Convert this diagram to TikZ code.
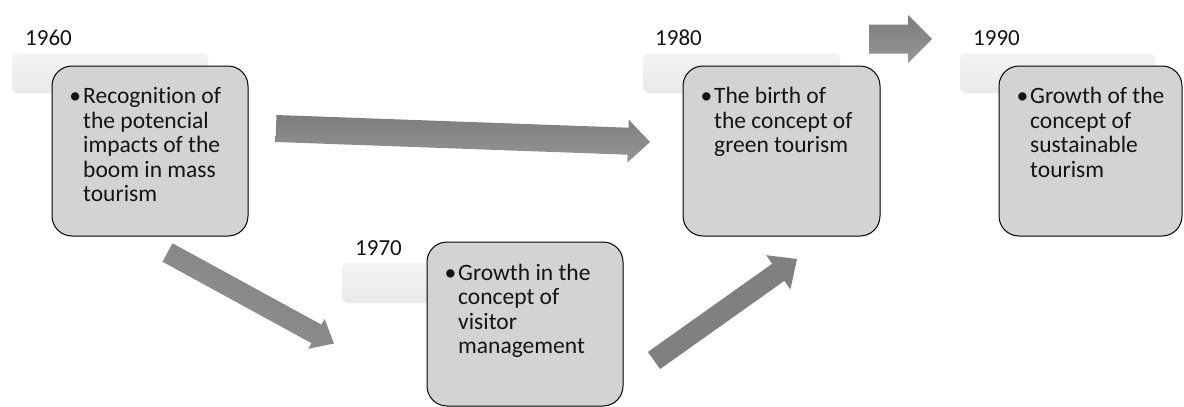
\documentclass[tikz,border=0pt]{standalone}
\usepackage{fontspec}
\setmainfont{Carlito}[Ligatures=NoCommon]
\usetikzlibrary{calc}
\definecolor{boxfill}{RGB}{211,211,211}
\definecolor{paneltop}{RGB}{244,244,244}
\definecolor{panelbot}{RGB}{234,234,234}
\definecolor{arrdark}{RGB}{125,125,125}
\definecolor{arrlight}{RGB}{170,170,170}
\definecolor{arrmid}{RGB}{150,150,150}
\definecolor{arrsolid}{RGB}{128,128,128}
\definecolor{txt}{RGB}{20,20,20}
% #1 style, #2 tail, #3 tip, #4 half shaft width, #5 half head width, #6 head length
\newcommand\fatarrow[6]{%
  \coordinate (#2hb) at ($(#3)!#6!(#2)$);
  \path[#1] ($(#2)!#4!90:(#3)$) -- ($(#2hb)!#4!-90:(#2)$) -- ($(#2hb)!#5!-90:(#2)$)
     -- (#3) -- ($(#2hb)!#5!90:(#2)$) -- ($(#2hb)!#4!90:(#2)$) -- ($(#2)!#4!-90:(#3)$) -- cycle;
}
\tikzset{
  mainbox/.style={draw=black, line width=1pt, fill=boxfill, rounded corners=20pt,
    anchor=north west, inner sep=0pt, outer sep=0pt},
  panel/.style={rounded corners=6pt, top color=paneltop, bottom color=panelbot,
    anchor=north west, inner sep=0pt, outer sep=0pt, minimum height=40pt},
  year/.style={anchor=base west, inner sep=0pt, text=txt,
    font=\fontsize{23}{24.5}\selectfont},
  bodytext/.style={anchor=base west, inner sep=0pt, text=txt,
    font=\fontsize{23.5}{24.5}\selectfont},
  arrgrad/.style={top color=arrdark, middle color=arrlight, bottom color=arrmid},
  arrflat/.style={fill=arrsolid}
}
\newcommand\bul{\leavevmode\llap{\textbullet\hspace{2pt}}}
\begin{document}
\begin{tikzpicture}[x=1pt,y=-1pt]
\useasboundingbox (0,0) rectangle (1184,407);
\clip (0,0) rectangle (1184,407);

% panels
\node[panel, minimum width=196pt] (p60) at (12,53) {};
\node[panel, minimum width=195pt] (p70) at (342,263) {};
\node[panel, minimum width=197pt] (p80) at (643,53) {};
\node[panel, minimum width=195pt] (p90) at (960,53) {};

% year labels
\node[year] (y60) at (25,45) {1960};
\node[year] (y70) at (355,255) {1970};
\node[year] (y80) at (655,45) {1980};
\node[year] (y90) at (973,45) {1990};

% main boxes
\node[mainbox, minimum width=196pt, minimum height=170pt] (b60) at (52,66) {};
\node[mainbox, minimum width=196pt, minimum height=164pt] (b70) at (427,242) {};
\node[mainbox, minimum width=197pt, minimum height=170pt] (b80) at (683,66) {};
\node[mainbox, minimum width=183pt, minimum height=170pt] (b90) at (999,66) {};

% texts
\node[bodytext] (t60) at ($(b60.north west)+(31,37.5)$)
  {\parbox[t]{170pt}{\raggedright\bul Recognition of\\the potencial\\impacts of the\\boom in mass\\tourism}};
\node[bodytext] (t70) at ($(b70.north west)+(31,38)$)
  {\parbox[t]{170pt}{\raggedright\bul Growth in the\\concept of\\visitor\\management}};
\node[bodytext] (t80) at ($(b80.north west)+(31,37.5)$)
  {\parbox[t]{170pt}{\raggedright\bul The birth of\\the concept of\\green tourism}};
\node[bodytext] (t90) at ($(b90.north west)+(31,37.5)$)
  {\parbox[t]{150pt}{\raggedright\bul Growth of the\\concept of\\sustainable\\tourism}};

% arrows
\coordinate (a1t) at (276,128.5);
\coordinate (a1h) at (650,142);
\coordinate (a2t) at (167.5,252.5);
\coordinate (a2h) at (334,343.5);
\coordinate (a3t) at (654,360.5);
\coordinate (a3h) at (797,259);
\coordinate (a4t) at (869,39);
\coordinate (a4h) at (932,39);

\fatarrow{arrgrad}{a1t}{a1h}{13.5pt}{21.5pt}{22pt}
\fatarrow{arrgrad, shading angle=-29}{a2t}{a2h}{10.5pt}{17pt}{20pt}
\fatarrow{arrflat}{a3t}{a3h}{10.5pt}{21pt}{23pt}
\fatarrow{arrgrad}{a4t}{a4h}{14.5pt}{24pt}{24pt}
\end{tikzpicture}
\end{document}
